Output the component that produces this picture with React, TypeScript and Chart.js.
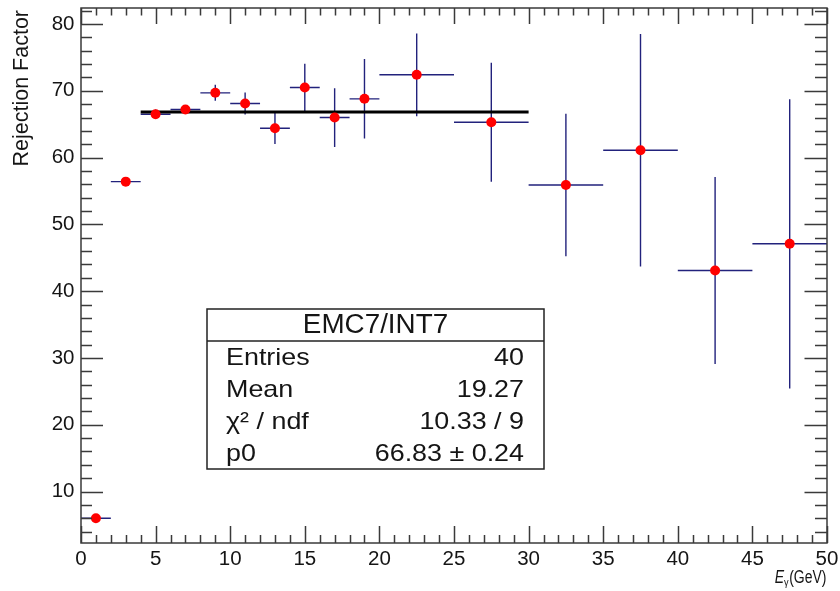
import { useEffect, useRef } from "react";
import { Chart, registerables } from "chart.js";

Chart.register(...registerables);

// Photon-energy bins (GeV): 2 GeV wide up to 20, then 5 GeV wide
const binLow = [0, 2, 4, 6, 8, 10, 12, 14, 16, 18, 20, 25, 30, 35, 40, 45];
const binHigh = [2, 4, 6, 8, 10, 12, 14, 16, 18, 20, 25, 30, 35, 40, 45, 50];
// EMC7/INT7 rejection factor per bin and its statistical error
const rejection = [6.0, 56.4, 66.5, 67.2, 69.7, 68.1, 64.4, 70.5, 66.0, 68.8, 72.4, 65.3, 55.9, 61.1, 43.1, 47.1];
const rejectionErr = [0.3, 0.4, 0.7, 0.5, 1.2, 1.65, 2.35, 3.55, 4.4, 5.95, 6.2, 8.9, 10.65, 17.4, 14.0, 21.65];

// Constant (pol0) fit over the plateau
const fitRange = [4, 30];
const fitP0 = 66.83;

// Axis ticks
const xTickLabels = [0, 5, 10, 15, 20, 25, 30, 35, 40, 45, 50];
const yTickLabels = [10, 20, 30, 40, 50, 60, 70, 80];
const xMinorStep = 1;
const yMinorStep = 2;

// Statistics box
const statsTitle = "EMC7/INT7";
const statsNames = ["Entries", "Mean", "χ² / ndf", "p0"];
const statsValues = ["40", "19.27", "10.33 / 9", "66.83 ± 0.24"];

const FONT = '"Liberation Sans", Arial, Helvetica, sans-serif';
const AXIS_COLOR = "#3a3a3a";
const TEXT_COLOR = "#151515";
const ERR_COLOR = "#22227c";

const binCenters = binLow.map((lo, i) => (lo + binHigh[i]) / 2);

// draw text with a horizontal stretch factor
function stretchedText(ctx: CanvasRenderingContext2D, text: string, x: number, y: number, sx: number) {
  ctx.save();
  ctx.translate(x, y);
  ctx.scale(sx, 1);
  ctx.fillText(text, 0, 0);
  ctx.restore();
}

const errorBarPlugin = {
  id: "errorBars",
  beforeDatasetsDraw(chart: any) {
    const { ctx } = chart;
    const xs = chart.scales.x;
    const ys = chart.scales.y;
    ctx.save();
    ctx.strokeStyle = ERR_COLOR;
    ctx.lineWidth = 1.4;
    ctx.beginPath();
    binCenters.forEach((xc, i) => {
      const py = ys.getPixelForValue(rejection[i]);
      const px = xs.getPixelForValue(xc);
      ctx.moveTo(xs.getPixelForValue(binLow[i]), py);
      ctx.lineTo(xs.getPixelForValue(binHigh[i]), py);
      ctx.moveTo(px, ys.getPixelForValue(rejection[i] + rejectionErr[i]));
      ctx.lineTo(px, ys.getPixelForValue(rejection[i] - rejectionErr[i]));
    });
    ctx.stroke();
    ctx.restore();
  },
};

const framePlugin = {
  id: "frameAndStats",
  afterDraw(chart: any) {
    const { ctx } = chart;
    const xs = chart.scales.x;
    const ys = chart.scales.y;
    const { left, right, top, bottom } = chart.chartArea;

    ctx.save();
    // frame
    ctx.strokeStyle = AXIS_COLOR;
    ctx.lineWidth = 1.5;
    ctx.strokeRect(left, top, right - left, bottom - top);

    // inward ticks on all four sides
    ctx.beginPath();
    for (let v = xs.min; v <= xs.max + 1e-9; v += xMinorStep) {
      const px = Math.round(xs.getPixelForValue(v)) + 0.5;
      const major = xTickLabels.includes(Math.round(v));
      ctx.moveTo(px, bottom);
      ctx.lineTo(px, bottom - (major ? 17 : 8));
      ctx.moveTo(px, top);
      ctx.lineTo(px, top + (major ? 16 : 7.5));
    }
    const yStart = Math.ceil(ys.min / yMinorStep) * yMinorStep;
    for (let v = yStart; v <= ys.max + 1e-9; v += yMinorStep) {
      const py = Math.round(ys.getPixelForValue(v)) + 0.5;
      const major = yTickLabels.includes(v);
      ctx.moveTo(left, py);
      ctx.lineTo(left + (major ? 22 : 11), py);
      ctx.moveTo(right, py);
      ctx.lineTo(right - (major ? 22.5 : 12), py);
    }
    ctx.stroke();

    // tick labels
    ctx.fillStyle = TEXT_COLOR;
    ctx.font = `20.5px ${FONT}`;
    ctx.textAlign = "center";
    ctx.textBaseline = "middle";
    xTickLabels.forEach((v) => {
      ctx.fillText(String(v), xs.getPixelForValue(v), bottom + 16);
    });
    ctx.textAlign = "right";
    yTickLabels.forEach((v) => {
      ctx.fillText(String(v), left - 6.5, ys.getPixelForValue(v));
    });

    // y title (aligned to the top end of the axis)
    ctx.save();
    ctx.translate(22.5, top + 2);
    ctx.rotate(-Math.PI / 2);
    ctx.font = `21.5px ${FONT}`;
    ctx.textAlign = "right";
    ctx.textBaseline = "middle";
    ctx.fillText("Rejection Factor", 0, 0);
    ctx.restore();

    // x title: E_γ(GeV), slightly narrow, right-aligned to the axis end
    const sx = 0.8;
    const mainFont = `17.5px ${FONT}`;
    const italicFont = `italic 17.5px ${FONT}`;
    const subFont = `11.5px ${FONT}`;
    ctx.textAlign = "left";
    ctx.textBaseline = "alphabetic";
    ctx.font = italicFont;
    const wE = ctx.measureText("E").width * sx;
    ctx.font = subFont;
    const wG = ctx.measureText("γ").width * sx;
    ctx.font = mainFont;
    const wU = ctx.measureText("(GeV)").width * sx;
    const xEnd = right - 0.5;
    const base = bottom + 40;
    let xPos = xEnd - (wE + wG + 0.5 + wU);
    ctx.font = italicFont;
    stretchedText(ctx, "E", xPos, base, sx);
    xPos += wE;
    ctx.font = subFont;
    stretchedText(ctx, "γ", xPos, base + 3, sx);
    xPos += wG + 0.5;
    ctx.font = mainFont;
    stretchedText(ctx, "(GeV)", xPos, base, sx);

    // statistics box
    const bx0 = 207, bx1 = 544, by0 = 309, bSep = 341, by1 = 469;
    ctx.fillStyle = "#ffffff";
    ctx.fillRect(bx0, by0, bx1 - bx0, by1 - by0);
    ctx.strokeStyle = "#222222";
    ctx.lineWidth = 1.5;
    ctx.strokeRect(bx0, by0, bx1 - bx0, by1 - by0);
    ctx.beginPath();
    ctx.moveTo(bx0, bSep);
    ctx.lineTo(bx1, bSep);
    ctx.stroke();

    ctx.fillStyle = TEXT_COLOR;
    ctx.textBaseline = "middle";
    ctx.font = `27px ${FONT}`;
    ctx.textAlign = "center";
    stretchedText(ctx, statsTitle, (bx0 + bx1) / 2, (by0 + bSep) / 2 + 1, 1.03);
    ctx.font = `24px ${FONT}`;
    const rowH = (by1 - bSep) / statsNames.length;
    statsNames.forEach((name, i) => {
      const cy = bSep + rowH * (i + 0.5) + 1;
      ctx.textAlign = "left";
      stretchedText(ctx, name, 226, cy, 1.12);
      ctx.textAlign = "right";
      stretchedText(ctx, statsValues[i], 524, cy, 1.12);
    });
    ctx.restore();
  },
};

export default function App() {
  const canvasRef = useRef<HTMLCanvasElement | null>(null);

  useEffect(() => {
    const canvas = canvasRef.current;
    if (!canvas) return;
    const chart = new Chart(canvas, {
      type: "scatter",
      data: {
        datasets: [
          {
            label: statsTitle,
            data: binCenters.map((x, i) => ({ x, y: rejection[i] })),
            backgroundColor: "#ff0000",
            borderWidth: 0,
            pointRadius: 5,
            pointHoverRadius: 5,
            showLine: false,
            order: 0,
          },
          {
            type: "line",
            label: "pol0",
            data: fitRange.map((x) => ({ x, y: fitP0 })),
            borderColor: "#000000",
            borderWidth: 2.8,
            pointRadius: 0,
            showLine: true,
            fill: false,
            order: 1,
          },
        ],
      } as any,
      options: {
        responsive: false,
        animation: false,
        events: [],
        layout: { padding: { left: 81, right: 13, top: 8, bottom: 48 } },
        plugins: {
          legend: { display: false },
          tooltip: { enabled: false },
        },
        scales: {
          x: { type: "linear", min: 0, max: 50, display: false },
          y: { type: "linear", min: 2.3, max: 82.4, display: false },
        },
      },
      plugins: [errorBarPlugin, framePlugin],
    });
    return () => chart.destroy();
  }, []);

  return (
    <div style={{ position: "absolute", left: 0, top: 0, width: 840, height: 591, background: "#ffffff" }}>
      <canvas ref={canvasRef} width={840} height={591} style={{ display: "block" }} />
    </div>
  );
}
